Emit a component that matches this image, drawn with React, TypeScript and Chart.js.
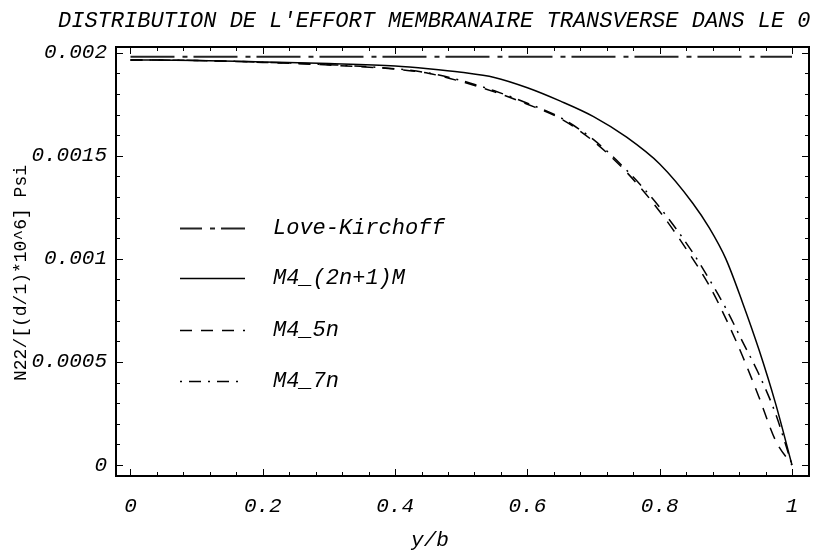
import React, { useEffect, useRef } from "react";
import { Chart, registerables } from "chart.js";

Chart.register(...registerables);

// ---- data ----
const xValues = [0, 0.1, 0.2, 0.3, 0.4, 0.45, 0.5, 0.55, 0.6, 0.65, 0.7, 0.75, 0.8, 0.85, 0.875, 0.9, 0.925, 0.95, 0.975, 1.0];
const loveKirchoff = [0.00198, 0.00198, 0.00198, 0.00198, 0.00198, 0.00198, 0.00198, 0.00198, 0.00198, 0.00198, 0.00198, 0.00198, 0.00198, 0.00198, 0.00198, 0.00198, 0.00198, 0.00198, 0.00198, 0.00198];
const m4_2n1M = [0.001965, 0.001962, 0.001955, 0.001947, 0.001935, 0.001922, 0.001905, 0.00188, 0.00183, 0.001765, 0.00169, 0.00159, 0.00146, 0.00127, 0.00115, 0.001, 0.00079, 0.00056, 0.0003, 0];
const m4_5n = [0.001965, 0.001962, 0.001953, 0.00194, 0.00192, 0.0019, 0.00186, 0.00181, 0.00175, 0.00168, 0.00157, 0.00142, 0.00123, 0.001, 0.00087, 0.00071, 0.00053, 0.00033, 0.00012, 0];
const m4_7n = [0.001965, 0.001962, 0.001954, 0.001942, 0.001922, 0.001902, 0.001865, 0.001815, 0.001755, 0.001685, 0.001578, 0.00143, 0.00125, 0.00103, 0.0009, 0.00076, 0.0006, 0.00044, 0.00025, 0];

const seriesLabels = ["Love-Kirchoff", "M4_(2n+1)M", "M4_5n", "M4_7n"];
const xTickValues = [0, 0.2, 0.4, 0.6, 0.8, 1];
const xTickLabels = ["0", "0.2", "0.4", "0.6", "0.8", "1"];
const yTickValues = [0, 0.0005, 0.001, 0.0015, 0.002];
const yTickLabels = ["0", "0.0005", "0.001", "0.0015", "0.002"];
const chartTitle = "DISTRIBUTION DE L'EFFORT MEMBRANAIRE TRANSVERSE DANS LE 0";
const xAxisTitle = "y/b";
const yAxisTitle = "N22/[(d/1)*10^6] Psi";

const MONO = "'Liberation Mono', 'Courier New', monospace";

const legendDashOffsets = [22, 0, 0, 19];

const decorPlugin = {
  id: "decor",
  afterDatasetsDraw(chart: any) {
    const ctx = chart.ctx;
    const { left, right, top, bottom } = chart.chartArea;
    const xs = chart.scales.x;
    const ys = chart.scales.y;
    ctx.save();
    ctx.strokeStyle = "#000";
    ctx.lineWidth = 1;
    // inward ticks on all four sides
    for (let i = 0; i <= 25; i++) {
      const v = i * 0.04;
      const px = Math.round(xs.getPixelForValue(v)) + 0.5;
      const len = i % 5 === 0 ? 7 : 4;
      ctx.beginPath();
      ctx.moveTo(px, bottom);
      ctx.lineTo(px, bottom - len);
      ctx.moveTo(px, top);
      ctx.lineTo(px, top + len);
      ctx.stroke();
    }
    for (let i = 0; i <= 20; i++) {
      const v = i * 0.0001;
      const py = Math.round(ys.getPixelForValue(v)) + 0.5;
      const len = i % 5 === 0 ? 7 : 4;
      ctx.beginPath();
      ctx.moveTo(left, py);
      ctx.lineTo(left + len, py);
      ctx.moveTo(right, py);
      ctx.lineTo(right - len, py);
      ctx.stroke();
    }
    // frame
    ctx.lineWidth = 2;
    ctx.strokeRect(left, top, right - left, bottom - top);

    // legend
    const rowY = [228, 278, 330, 381];
    chart.data.datasets.forEach((ds: any, i: number) => {
      const y = rowY[i] + 0.5;
      ctx.beginPath();
      ctx.lineWidth = ds.borderWidth;
      ctx.strokeStyle = ds.borderColor;
      ctx.setLineDash(ds.borderDash || []);
      ctx.lineDashOffset = legendDashOffsets[i];
      ctx.moveTo(180, y);
      ctx.lineTo(245, y);
      ctx.stroke();
      ctx.setLineDash([]);
      ctx.lineDashOffset = 0;
      ctx.fillStyle = "#000";
      ctx.font = `italic 22px ${MONO}`;
      ctx.textBaseline = "middle";
      ctx.textAlign = "left";
      ctx.fillText(ds.label, 273, rowY[i]);
    });

    // titles
    ctx.fillStyle = "#000";
    ctx.font = `italic 22px ${MONO}`;
    ctx.textAlign = "left";
    ctx.textBaseline = "alphabetic";
    ctx.fillText(chartTitle, 58, 27);

    ctx.font = `italic 21px ${MONO}`;
    ctx.textAlign = "center";
    ctx.textBaseline = "middle";
    ctx.fillText(xAxisTitle, 430, 540);

    ctx.save();
    ctx.translate(21, 273);
    ctx.rotate(-Math.PI / 2);
    ctx.font = `18px ${MONO}`;
    ctx.textAlign = "center";
    ctx.textBaseline = "middle";
    ctx.fillText(yAxisTitle, 0, 0);
    ctx.restore();

    ctx.restore();
  },
};

export default function App() {
  const canvasRef = useRef<HTMLCanvasElement | null>(null);

  useEffect(() => {
    if (!canvasRef.current) return;
    const mk = (arr: number[]) => xValues.map((x, i) => ({ x, y: arr[i] }));
    const common = {
      borderColor: "#000",
      pointRadius: 0,
      fill: false,
      cubicInterpolationMode: "monotone" as const,
    };
    const chart = new Chart(canvasRef.current, {
      type: "line",
      data: {
        datasets: [
          { ...common, label: seriesLabels[0], data: mk(loveKirchoff), borderWidth: 2, borderColor: "#222", borderDash: [44, 8, 5, 6] },
          { ...common, label: seriesLabels[1], data: mk(m4_2n1M), borderWidth: 1.5 },
          { ...common, label: seriesLabels[2], data: mk(m4_5n), borderWidth: 1.5, borderDash: [12, 9] },
          { ...common, label: seriesLabels[3], data: mk(m4_7n), borderWidth: 1.5, borderDash: [12, 7, 2, 7] },
        ],
      },
      options: {
        responsive: false,
        animation: false,
        layout: { padding: { top: 47, right: 24, left: 0, bottom: 0 } },
        plugins: {
          legend: { display: false },
          title: { display: false },
          tooltip: { enabled: false },
        },
        scales: {
          x: {
            type: "linear",
            min: -0.0219,
            max: 1.0257,
            afterBuildTicks: (s: any) => {
              s.ticks = xTickValues.map((v) => ({ value: v }));
            },
            afterFit: (s: any) => {
              s.height = 75;
            },
            grid: { display: false, drawTicks: false },
            border: { display: false },
            ticks: {
              autoSkip: false,
              maxRotation: 0,
              padding: 18,
              color: "#000",
              font: { family: MONO, size: 21, style: "italic" },
              callback: (_v: any, i: number) => xTickLabels[i],
            },
          },
          y: {
            type: "linear",
            min: -0.0000534,
            max: 0.0020276,
            afterBuildTicks: (s: any) => {
              s.ticks = yTickValues.map((v) => ({ value: v }));
            },
            afterFit: (s: any) => {
              s.width = 116;
            },
            grid: { display: false, drawTicks: false },
            border: { display: false },
            ticks: {
              autoSkip: false,
              padding: 9,
              color: "#000",
              font: { family: MONO, size: 21, style: "italic" },
              callback: (_v: any, i: number) => yTickLabels[i],
            },
          },
        },
      },
      plugins: [decorPlugin],
    });
    return () => chart.destroy();
  }, []);

  return (
    <div style={{ position: "fixed", left: 0, top: 0, width: 833, height: 551, background: "#fff" }}>
      <canvas ref={canvasRef} width={833} height={551} />
    </div>
  );
}
